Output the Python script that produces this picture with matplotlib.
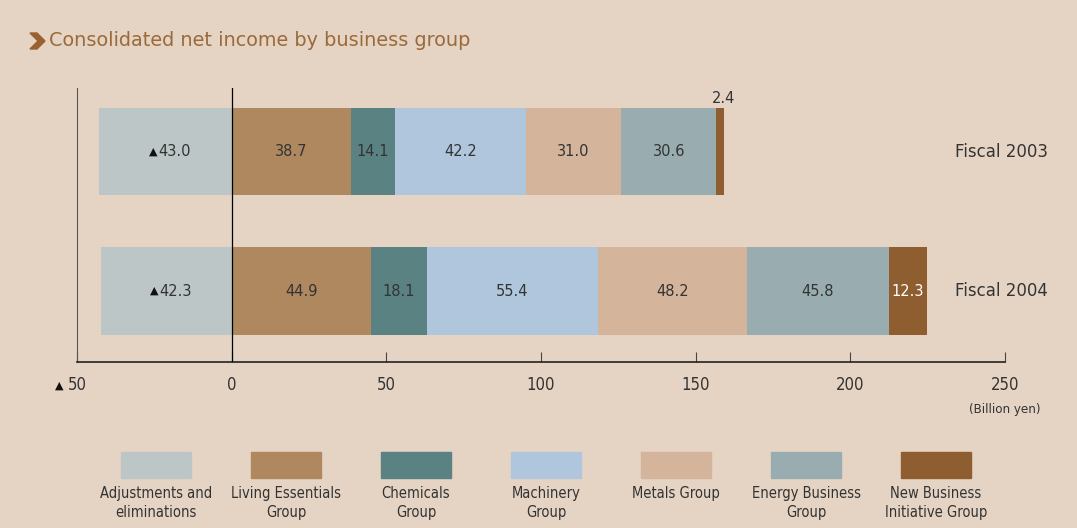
"""Consolidated net income by business group."""
import matplotlib
matplotlib.use("Agg")
import matplotlib.pyplot as plt
from matplotlib.patches import Rectangle, Polygon

bg = "#E5D4C4"
title_color = "#9A6A3B"
text_color = "#333333"
narrow = dict(family="DejaVu Sans", fontstretch="condensed")

groups = ["Adjustments and\neliminations", "Living Essentials\nGroup", "Chemicals\nGroup",
          "Machinery\nGroup", "Metals Group", "Energy Business\nGroup",
          "New Business\nInitiative Group"]
colors = ["#BCC6C6", "#B08860", "#5B8283", "#B0C6DC", "#D4B49A", "#99ADB0", "#8F5E30"]
years = ["Fiscal 2003", "Fiscal 2004"]
fy2003 = [-43.0, 38.7, 14.1, 42.2, 31.0, 30.6, 2.4]
fy2004 = [-42.3, 44.9, 18.1, 55.4, 48.2, 45.8, 12.3]
ticks = [-50, 0, 50, 100, 150, 200, 250]

W, H = 1077, 528
fig = plt.figure(figsize=(W / 100, H / 100), dpi=100, facecolor=bg)

# title with chevron
fig.patches.append(Polygon([[30 / W, 1 - 33 / H], [37 / W, 1 - 33 / H], [45 / W, 1 - 41 / H],
                            [37 / W, 1 - 49 / H], [30 / W, 1 - 49 / H], [38 / W, 1 - 41 / H]],
                           closed=True, transform=fig.transFigure, color="#9A6030"))
fig.text(49 / W, 1 - 41 / H, "Consolidated net income by business group", fontsize=13.9,
         color=title_color, va="center", ha="left", family="DejaVu Sans")

ax = fig.add_axes([77 / W, (H - 362) / H, (1005 - 77) / W, (362 - 88) / H])
ax.set_facecolor(bg)
ax.set_xlim(-50, 250)
ax.set_ylim(1, 0)
ypos = [0.232, 0.741]

for yi, vals in zip(ypos, [fy2003, fy2004]):
    left_pos = 0
    for i, v in enumerate(vals):
        if v < 0:
            start = v
        else:
            start = left_pos
            left_pos += v
        ax.barh(yi, abs(v), left=start, height=0.318, color=colors[i], zorder=2)
        xc = start + abs(v) / 2
        if v < 0:
            ax.text(xc - 2.5, yi, "▲", ha="right", va="center", fontsize=8,
                    color="#111111", zorder=3)
            ax.text(xc - 2.3, yi, f"{abs(v):.1f}", ha="left", va="center",
                    fontsize=10.5, color=text_color, family="DejaVu Sans", zorder=3)
        elif abs(v) < 5:
            ax.text(start + abs(v), yi - 0.165, f"{v:.1f}", ha="center", va="bottom",
                    fontsize=10.5, color=text_color, family="DejaVu Sans")
        else:
            tc = "white" if i == 6 else text_color
            ax.text(xc, yi, f"{v:.1f}", ha="center", va="center", fontsize=10.5,
                    color=tc, family="DejaVu Sans", zorder=3)

for yi, name in zip(ypos, years):
    ax.text(1.0 + 43 / (1005 - 77), yi, name, transform=ax.get_yaxis_transform(),
            ha="right", va="center", fontsize=12, color=text_color, family="DejaVu Sans")

ax.axvline(0, color="black", lw=0.9, zorder=4)
for s in ["top", "right"]:
    ax.spines[s].set_visible(False)
ax.spines["left"].set_color("#555555")
ax.spines["bottom"].set_color("#222222")
ax.spines["bottom"].set_linewidth(1.2)
ax.set_yticks([])
ax.set_xticks(ticks)
ax.set_xticklabels(["" if t < 0 else str(t) for t in ticks], fontsize=12,
                   color=text_color, **narrow)
ax.tick_params(axis="x", direction="in", length=7, width=0.8, color="#444444", pad=10)
for t in ticks:
    if t < 0:
        ax.text(t - 4.5, -0.085, "▲", transform=ax.get_xaxis_transform(), ha="right",
                va="center", fontsize=8, color="#111111")
        ax.text(t, -0.085, str(abs(t)), transform=ax.get_xaxis_transform(), ha="center",
                va="center", fontsize=12, color=text_color, **narrow)
ax.text(250, -0.15, "(Billion yen)", transform=ax.get_xaxis_transform(), ha="center",
        va="top", fontsize=9.5, color=text_color, **narrow)

# legend row
for i, (g, c) in enumerate(zip(groups, colors)):
    cx = 156 + 130 * i
    fig.patches.append(Rectangle(((cx - 35) / W, 1 - 478 / H), 70 / W, 26 / H,
                                 transform=fig.transFigure, color=c))
    fig.text(cx / W, 1 - 486 / H, g, ha="center", va="top", fontsize=10.5,
             color=text_color, linespacing=1.35, **narrow)

fig.savefig("out.png", dpi=100, facecolor=bg)
